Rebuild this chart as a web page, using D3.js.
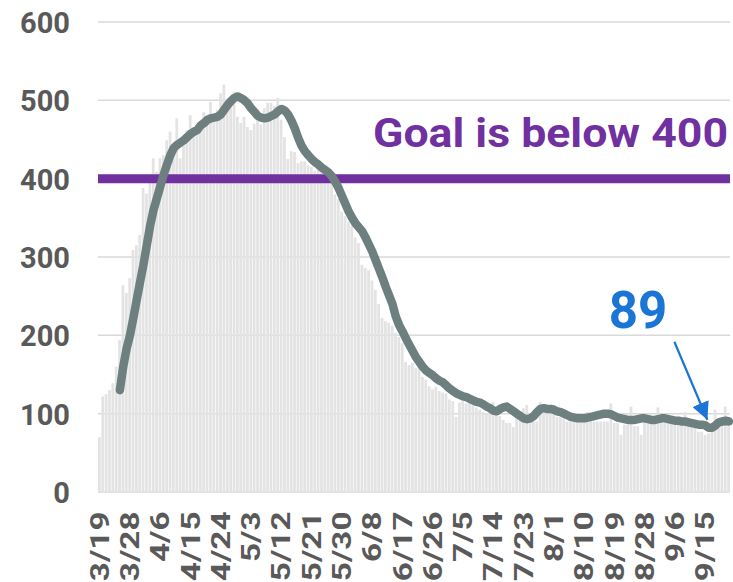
<!DOCTYPE html>
<html>
<head>
<meta charset="utf-8">
<script src="https://cdn.jsdelivr.net/npm/d3@7"></script>
<style>
  body { margin: 0; background: #fff; }
  svg text { font-family: Roboto, "Liberation Sans", sans-serif; font-weight: bold; }
</style>
</head>
<body>
<svg width="733" height="582"></svg>
<script>
// daily counts, 3/19 .. 9/22
var firstDay = new Date(2020, 2, 19),
    lastDay = new Date(2020, 8, 22);

var daily = [
  70,122,125,130,139,160,194,264,254,273,
  309,315,328,388,381,398,426,409,426,430,
  449,460,436,477,426,445,462,481,460,466,
  470,485,478,498,472,488,509,520,500,495,
  511,479,471,479,466,462,470,478,469,490,
  497,497,493,503,475,453,425,435,434,420,
  422,422,417,415,410,412,408,405,405,403,
  380,374,358,352,345,340,325,318,290,286,
  283,270,258,240,222,218,216,212,203,198,
  190,166,162,165,158,160,147,143,135,131,
  134,129,127,126,118,116,96,114,116,113,
  117,114,108,105,102,100,103,115,99,97,
  92,88,88,83,101,101,107,111,90,90,
  90,115,111,109,109,111,96,96,105,90,
  90,92,92,90,90,102,92,90,90,90,
  90,90,113,88,88,73,86,86,109,84,
  84,73,90,90,90,92,108,88,88,88,
  88,92,90,88,102,84,84,84,77,77,
  73,75,80,105,82,84,109,84
];

// 7-day average, starts 3/25
var avgStart = new Date(2020, 2, 25);
var average = [
  130,160,183,200,222,245,268,290,315,340,
  360,375,390,405,418,430,439,443,446,449,
  453,457,460,462,468,471,475,477,478,479,
  482,488,494,499,503,505,503,500,496,490,
  485,480,478,477,478,480,482,486,489,487,
  482,474,464,452,442,435,430,425,421,418,
  414,411,408,403,396,388,378,368,358,350,
  343,338,333,325,316,307,296,285,274,262,
  251,240,224,213,205,196,188,180,172,166,
  160,155,152,149,145,142,140,136,132,129,
  126,124,122,121,119,117,115,114,112,109,
  107,104,103,106,108,109,106,103,100,97,
  94,93,94,97,102,106,107,106,106,105,
  103,102,100,98,96,95,94,94,94,95,
  96,97,98,99,100,100,99,97,95,94,
  93,92,92,92,93,94,94,93,92,92,
  93,94,94,93,92,91,91,90,90,89,
  88,87,86,86,85,82,82,85,89,90,
  91,90
];

var tickLabels = ["3/19","3/28","4/6","4/15","4/24","5/3","5/12","5/21","5/30","6/8",
  "6/17","6/26","7/5","7/14","7/23","8/1","8/10","8/19","8/28","9/6","9/15"];
var yTicks = [0, 100, 200, 300, 400, 500, 600];
var goal = 400;
var goalText = "Goal is below 400";
var latestText = "89";
var arrowDay = new Date(2020, 8, 15), arrowValue = 82;

var fmt = d3.timeFormat("%-m/%-d");
var days = d3.timeDay.range(firstDay, d3.timeDay.offset(lastDay, 1)).map(fmt);

var svg = d3.select("svg");

var x = d3.scaleBand()
    .domain(days)
    .range([98, 730])
    .paddingInner(0.18);

var y = d3.scaleLinear()
    .domain([0, 600])
    .range([492, 22]);

// gridlines
svg.append("g")
  .selectAll("line")
  .data(yTicks)
  .enter().append("line")
    .attr("x1", 98)
    .attr("x2", 730)
    .attr("y1", function(d) { return y(d); })
    .attr("y2", function(d) { return y(d); })
    .attr("stroke", "#d9d9d9")
    .attr("stroke-width", 1.5);

// y labels
var yAxis = svg.append("g")
    .attr("transform", "translate(70,0)")
    .call(d3.axisLeft(y).tickValues(yTicks).tickSize(0).tickPadding(0));
yAxis.select(".domain").remove();
yAxis.selectAll("text")
    .attr("fill", "#595959")
    .attr("font-size", 29)
    .attr("dy", "0.36em");

// daily bars
svg.append("g")
  .selectAll("rect")
  .data(daily)
  .enter().append("rect")
    .attr("x", function(d, i) { return x(days[i]); })
    .attr("width", x.bandwidth())
    .attr("y", function(d) { return y(d); })
    .attr("height", function(d) { return y(0) - y(d); })
    .attr("fill", "#e3e3e3");

// goal line
svg.append("line")
    .attr("x1", 98)
    .attr("x2", 730)
    .attr("y1", y(goal))
    .attr("y2", y(goal))
    .attr("stroke", "#7030a0")
    .attr("stroke-width", 9);

svg.append("text")
    .attr("x", 373)
    .attr("y", 147)
    .attr("fill", "#7030a0")
    .attr("font-size", 41)
    .attr("textLength", 355)
    .attr("lengthAdjust", "spacingAndGlyphs")
    .text(goalText);

// average line
var avgOffset = days.indexOf(fmt(avgStart));
var line = d3.line()
    .x(function(d, i) { return x(days[i + avgOffset]) + x.step() / 2; })
    .y(function(d) { return y(d); });

svg.append("path")
    .datum(average)
    .attr("d", line)
    .attr("fill", "none")
    .attr("stroke", "#6e7f7f")
    .attr("stroke-width", 8.5)
    .attr("stroke-linejoin", "round")
    .attr("stroke-linecap", "round");

// x labels
var xAxis = svg.append("g")
    .attr("transform", "translate(0,500)")
    .call(d3.axisBottom(x).tickValues(tickLabels).tickSize(0).tickPadding(0));
xAxis.select(".domain").remove();
xAxis.selectAll("text")
    .attr("fill", "#595959")
    .attr("font-size", 26)
    .attr("text-anchor", "end")
    .attr("transform", "rotate(-90) scale(1.28,1)")
    .attr("x", -9)
    .attr("y", 0)
    .attr("dy", "0.36em");

// annotation
svg.append("defs").append("marker")
    .attr("id", "head")
    .attr("viewBox", "0 0 10 10")
    .attr("refX", 10)
    .attr("refY", 5)
    .attr("markerWidth", 8)
    .attr("markerHeight", 8)
    .attr("markerUnits", "strokeWidth")
    .attr("orient", "auto")
  .append("path")
    .attr("d", "M0,0L10,5L0,10Z")
    .attr("fill", "#1a75d6");

var tipX = x(fmt(arrowDay)) + x.step() / 2 + 2,
    tipY = y(arrowValue) - 8;

svg.append("line")
    .attr("x1", tipX - 33)
    .attr("y1", tipY - 78)
    .attr("x2", tipX)
    .attr("y2", tipY)
    .attr("stroke", "#1a75d6")
    .attr("stroke-width", 2.2)
    .attr("marker-end", "url(#head)");

svg.append("text")
    .attr("x", 638)
    .attr("y", 328)
    .attr("text-anchor", "middle")
    .attr("fill", "#1a75d6")
    .attr("font-size", 51)
    .text(latestText);
</script>
</body>
</html>
